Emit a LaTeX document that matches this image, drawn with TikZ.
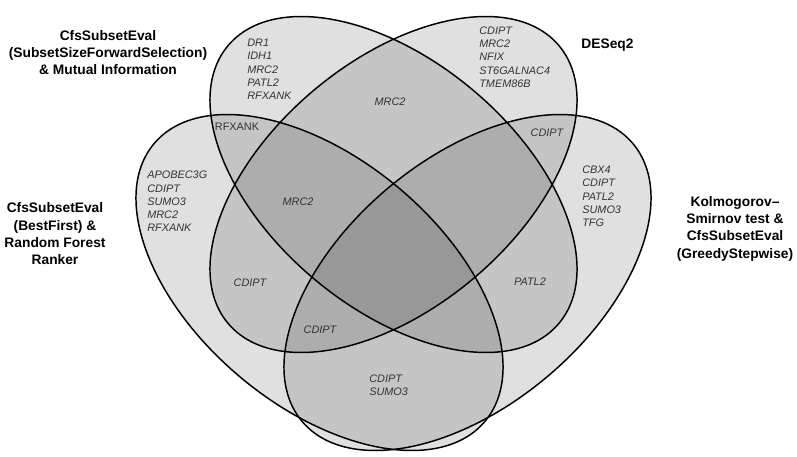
\documentclass[tikz,border=0pt]{standalone}
\usepackage{fontspec}
\setmainfont{Liberation Sans}
\usepackage{tikz}
\usetikzlibrary{shapes.geometric}

\begin{document}
\begin{tikzpicture}[
    set_shape/.style={draw, ellipse, line width=1.05pt, fill=black, fill opacity=0.12,
        inner sep=0pt, minimum width=10.8cm, minimum height=6.17cm},
    set_title/.style={align=center, inner sep=0pt, font=\fontsize{9.8}{12.3}\selectfont\bfseries},
    gene_list/.style={align=left, anchor=west, inner sep=0pt, text=black!80,
        font=\fontsize{7.75}{9.46}\selectfont\itshape},
    gene/.style={inner sep=0pt, text=black!80, font=\fontsize{7.75}{9.46}\selectfont\itshape},
]
    \path[use as bounding box] (0,0) rectangle (19.925,-11.4);

    \node[set_shape, rotate=-40] (fwd_sel) at (9.8375,-4.6125) {};
    \node[set_shape, rotate=40] (deseq) at (9.8375,-4.6125) {};
    \node[set_shape, rotate=-40] (best_first) at (7.9875,-7.0625) {};
    \node[set_shape, rotate=40] (ks_greedy) at (11.6875,-7.0625) {};

    \node[set_title] (title_fwd) at (2.7,-1.3125) {CfsSubsetEval\\(SubsetSizeForwardSelection)\\\& Mutual Information};
    \node[set_title] (title_deseq) at (15.1875,-1.125) {DESeq2};
    \node[set_title] (title_best) at (1.375,-5.85) {CfsSubsetEval\\(BestFirst) \&\\Random Forest\\Ranker};
    \node[set_title] (title_ks) at (18.375,-5.7125) {Kolmogorov–\\Smirnov test \&\\CfsSubsetEval\\(GreedyStepwise)};

    \node[gene_list] (only_fwd) at (6.175,-1.7375) {DR1\\IDH1\\MRC2\\PATL2\\RFXANK};
    \node[gene_list] (only_deseq) at (11.975,-1.425) {CDIPT\\MRC2\\NFIX\\ST6GALNAC4\\TMEM86B};
    \node[gene_list] (only_best) at (3.675,-5.0375) {APOBEC3G\\CDIPT\\SUMO3\\MRC2\\RFXANK};
    \node[gene_list] (only_ks) at (14.55,-4.9125) {CBX4\\CDIPT\\PATL2\\SUMO3\\TFG};
    \node[gene_list] (best_ks) at (9.225,-9.6375) {CDIPT\\SUMO3};

    \node[gene] (fwd_deseq) at (9.75,-2.55) {MRC2};
    \node[gene, font=\fontsize{7.75}{9.46}\selectfont] (fwd_best) at (5.925,-3.175) {RFXANK};
    \node[gene] (fwd_deseq_best) at (7.45,-5.05) {MRC2};
    \node[gene] (deseq_best) at (6.25,-7.075) {CDIPT};
    \node[gene] (deseq_ks) at (13.675,-3.325) {CDIPT};
    \node[gene] (fwd_ks) at (13.25,-7.05) {PATL2};
    \node[gene] (deseq_best_ks) at (8.0,-8.25) {CDIPT};
\end{tikzpicture}
\end{document}
